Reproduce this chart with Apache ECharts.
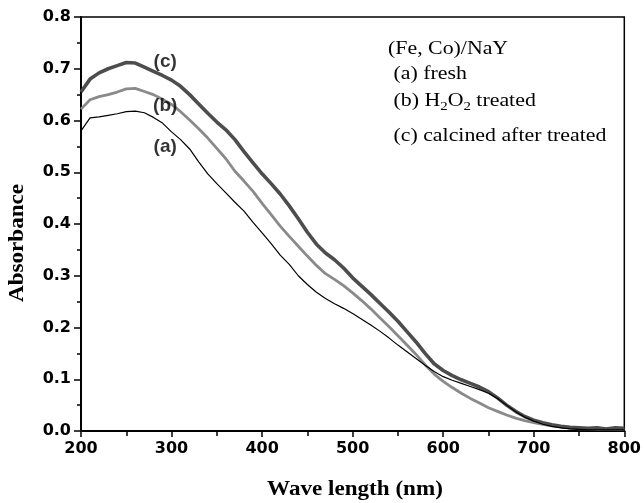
<!DOCTYPE html>
<html>
<head>
<meta charset="utf-8">
<script src="https://cdn.jsdelivr.net/npm/echarts@6/dist/echarts.min.js"></script>
<style>
  html, body { margin: 0; padding: 0; background: #fff; }
  #chart { width: 644px; height: 503px; }
</style>
</head>
<body>
<div id="chart"></div>
<script>
// wavelength (nm), every 10 nm
const waveLength = [200, 210, 220, 230, 240, 250, 260, 270, 280, 290,
  300, 310, 320, 330, 340, 350, 360, 370, 380, 390,
  400, 410, 420, 430, 440, 450, 460, 470, 480, 490,
  500, 510, 520, 530, 540, 550, 560, 570, 580, 590,
  600, 610, 620, 630, 640, 650, 660, 670, 680, 690,
  700, 710, 720, 730, 740, 750, 760, 770, 780, 790, 800]

// (a) fresh
const freshData = [0.580, 0.605, 0.607, 0.610, 0.613, 0.617, 0.618, 0.615, 0.606, 0.595,
  0.578, 0.563, 0.545, 0.520, 0.497, 0.478, 0.460, 0.442, 0.425, 0.403,
  0.383, 0.362, 0.340, 0.322, 0.300, 0.283, 0.268, 0.256, 0.246, 0.237,
  0.227, 0.216, 0.205, 0.193, 0.180, 0.166, 0.153, 0.140, 0.127, 0.115,
  0.105, 0.098, 0.092, 0.086, 0.080, 0.073, 0.063, 0.050, 0.037, 0.027,
  0.019, 0.013, 0.009, 0.006, 0.004, 0.003, 0.002, 0.002, 0.002, 0.002, 0.002]

// (b) H2O2 treated
const treatedData = [0.622, 0.640, 0.646, 0.650, 0.655, 0.661, 0.662, 0.656, 0.650, 0.641,
  0.631, 0.617, 0.601, 0.584, 0.566, 0.546, 0.526, 0.502, 0.483, 0.463,
  0.440, 0.418, 0.396, 0.376, 0.357, 0.338, 0.320, 0.304, 0.293, 0.281,
  0.267, 0.252, 0.236, 0.219, 0.202, 0.184, 0.166, 0.148, 0.128, 0.110,
  0.096, 0.084, 0.073, 0.063, 0.054, 0.045, 0.038, 0.031, 0.025, 0.020,
  0.016, 0.013, 0.010, 0.008, 0.006, 0.004, 0.004, 0.003, 0.003, 0.003, 0.003]

// (c) calcined after treated
const calcinedData = [0.655, 0.680, 0.692, 0.700, 0.706, 0.712, 0.711, 0.703, 0.695, 0.687,
  0.678, 0.666, 0.650, 0.632, 0.614, 0.597, 0.582, 0.563, 0.540, 0.518,
  0.497, 0.478, 0.458, 0.435, 0.410, 0.384, 0.361, 0.344, 0.331, 0.315,
  0.296, 0.280, 0.264, 0.247, 0.230, 0.212, 0.192, 0.172, 0.150, 0.130,
  0.117, 0.107, 0.099, 0.092, 0.085, 0.076, 0.064, 0.050, 0.038, 0.028,
  0.021, 0.016, 0.012, 0.009, 0.007, 0.006, 0.005, 0.006, 0.004, 0.006, 0.005]

// curve labels: [wavelength, absorbance, text]
const curveLabels = [[293, 0.713, '(c)'], [293, 0.628, '(b)'], [293, 0.549, '(a)']]

// legend lines drawn as text in the upper right
const legendLines = [
  '(Fe, Co)/NaY',
  ' (a) fresh',
  ' (b) H{sub|2}O{sub|2} treated',
  ' (c) calcined after treated'
]

const numFont = 'DejaVu Sans, Liberation Sans, sans-serif'
const sansFont = 'Liberation Sans, Arial, sans-serif'
const serifFont = 'Liberation Serif, Times New Roman, serif'

function pairs (ys) {
  return waveLength.map((x, i) => [x, ys[i]])
}

function legendGraphics () {
  let baseY = [49, 74, 101, 136]
  return legendLines.map((t, i) => ({
    type: 'text',
    x: 388,
    y: baseY[i],
    scaleX: 1.15,
    style: {
      text: t,
      font: '19px ' + serifFont,
      fill: '#000',
      verticalAlign: 'middle',
      rich: {
        sub: { font: '13px ' + serifFont, fill: '#000', padding: [12, 0, 0, 0] }
      }
    }
  }))
}

function getOption () {
  let tickStyle = { color: '#000', width: 1.5 }
  let labelStyle = { color: '#000', fontFamily: numFont, fontWeight: 'bold', fontSize: 16 }
  let option = {
    animation: false,
    backgroundColor: '#fff',
    grid: {
      left: 81,
      right: 17,
      top: 17,
      bottom: 72,
      show: true,
      borderColor: '#000',
      borderWidth: 1.5
    },
    xAxis: {
      type: 'value',
      min: 200,
      max: 800,
      interval: 100,
      axisLine: { lineStyle: { color: '#000', width: 2 } },
      axisTick: { length: 6, lineStyle: tickStyle },
      minorTick: { show: true, splitNumber: 2, length: 5, lineStyle: tickStyle },
      splitLine: { show: false },
      axisLabel: Object.assign({}, labelStyle, { margin: 10 })
    },
    yAxis: {
      type: 'value',
      min: 0,
      max: 0.8,
      interval: 0.1,
      axisLine: { lineStyle: { color: '#000', width: 2 } },
      axisTick: { length: 7, lineStyle: tickStyle },
      minorTick: { show: true, splitNumber: 2, length: 4, lineStyle: tickStyle },
      splitLine: { show: false },
      axisLabel: Object.assign({}, labelStyle, {
        margin: 10,
        formatter: v => v.toFixed(1)
      })
    },
    graphic: [
      {
        type: 'text',
        x: 355,
        y: 490,
        scaleX: 1.1,
        style: {
          text: 'Wave length (nm)',
          font: 'bold 21px ' + serifFont,
          fill: '#000',
          align: 'center',
          verticalAlign: 'middle'
        }
      },
      {
        type: 'text',
        x: 18,
        y: 243,
        rotation: Math.PI / 2,
        scaleX: 1.1,
        style: {
          text: 'Absorbance',
          font: 'bold 21px ' + serifFont,
          fill: '#000',
          align: 'center',
          verticalAlign: 'middle'
        }
      }
    ].concat(legendGraphics()),
    series: [
      {
        name: '(a) fresh',
        type: 'line',
        data: pairs(freshData),
        showSymbol: false,
        lineStyle: { color: '#000', width: 1.2 },
        z: 4
      },
      {
        name: '(b) H2O2 treated',
        type: 'line',
        data: pairs(treatedData),
        showSymbol: false,
        lineStyle: { color: '#8a8a8a', width: 2.8 },
        z: 2
      },
      {
        name: '(c) calcined after treated',
        type: 'line',
        data: pairs(calcinedData),
        showSymbol: false,
        lineStyle: { color: '#4d4d4d', width: 3.6 },
        z: 3
      },
      {
        type: 'scatter',
        data: curveLabels,
        symbolSize: 0,
        label: {
          show: true,
          position: 'inside',
          formatter: p => p.value[2],
          color: '#000',
          fontFamily: sansFont,
          fontWeight: 'bold',
          fontSize: 19
        },
        z: 5
      }
    ]
  }
  return option
}

let chart = echarts.init(document.getElementById('chart'))
chart.setOption(getOption())
</script>
</body>
</html>
